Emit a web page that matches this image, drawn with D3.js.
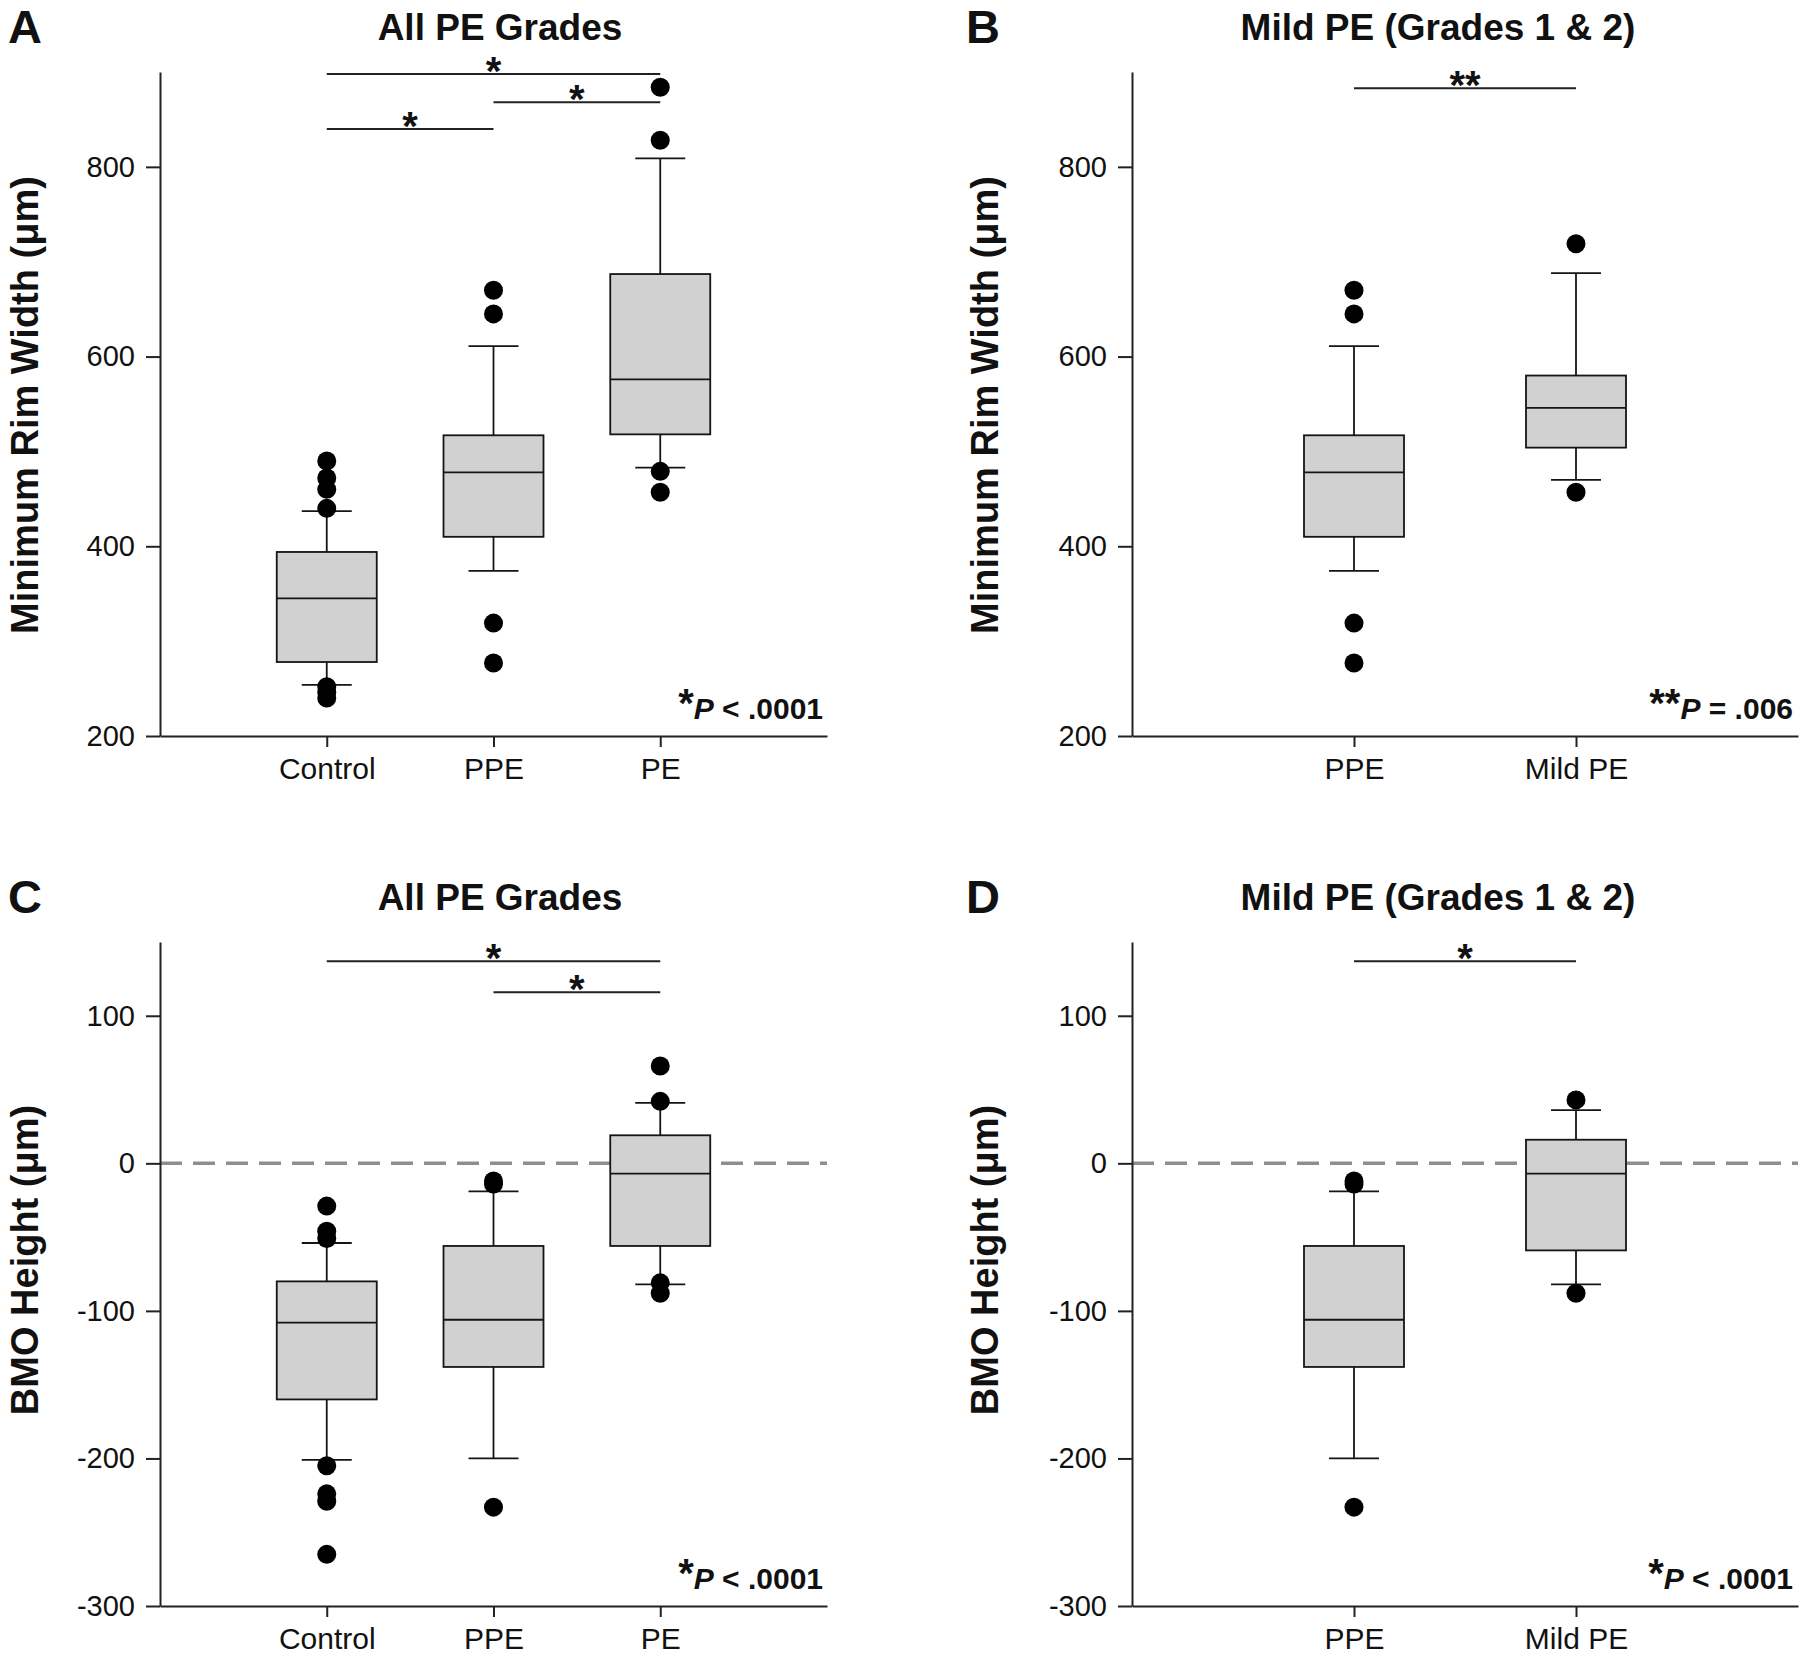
<!DOCTYPE html>
<html>
<head>
<meta charset="utf-8">
<script src="https://cdn.jsdelivr.net/npm/d3@7"></script>
<style>
  body { margin: 0; background: #fff; }
  text { font-family: "Liberation Sans", Arial, sans-serif; fill: #111; }
</style>
</head>
<body>
<script>
// page size
var W = 1800, H = 1656;

// categories
var catsAll = ["Control", "PPE", "PE"];
var catsMild = ["PPE", "Mild PE"];

// box stats: [lower whisker, Q1, median, Q3, upper whisker]
var mrwStats = {
  "Control": [254, 278, 345, 394, 437],
  "PPE":     [374, 410, 478, 517, 611],
  "PE":      [483, 518, 576, 687, 809],
  "Mild PE": [470, 504, 546, 580, 688]
};
var mrwOutliers = {
  "Control": [490, 472, 460, 440, 252, 246, 240],
  "PPE":     [670, 645, 319, 277],
  "PE":      [884, 828, 479, 457],
  "Mild PE": [719, 457]
};
var bmoStats = {
  "Control": [-201, -160, -108, -80, -54],
  "PPE":     [-200, -138, -106, -56, -19],
  "PE":      [-82, -56, -7, 19, 41],
  "Mild PE": [-82, -59, -7, 16, 36]
};
var bmoOutliers = {
  "Control": [-29, -46, -51, -205, -224, -229, -265],
  "PPE":     [-12, -14, -233],
  "PE":      [66, 42, -81, -88],
  "Mild PE": [43, -88]
};

// tick labels
var mrwTicks = [200, 400, 600, 800];
var bmoTicks = [-300, -200, -100, 0, 100];

// significance brackets
var sigA = [
  {from: "Control", to: "PE",  y: 898, label: "*"},
  {from: "PPE",     to: "PE",  y: 868, label: "*"},
  {from: "Control", to: "PPE", y: 840, label: "*"}
];
var sigB = [{from: "PPE", to: "Mild PE", y: 883, label: "**"}];
var sigC = [
  {from: "Control", to: "PE", y: 137, label: "*"},
  {from: "PPE",     to: "PE", y: 116, label: "*"}
];
var sigD = [{from: "PPE", to: "Mild PE", y: 137, label: "*"}];

var svg = d3.select("body").append("svg")
  .attr("width", W)
  .attr("height", H);

svg.append("rect").attr("width", W).attr("height", H).style("fill", "white");

//one panel = one box plot
function drawPanel(p) {
  var x = d3.scalePoint().domain(p.cats).range([p.x0, p.x1]).padding(1);
  var y = d3.scaleLinear().domain(p.domain).range([p.yb, p.yt]);
  var g = svg.append("g");

  // panel letter and title
  g.append("text")
    .attr("x", p.letterX).attr("y", p.yt - 29)
    .attr("font-size", "47px").attr("font-weight", "bold")
    .text(p.letter);
  g.append("text")
    .attr("x", p.titleX).attr("y", p.yt - 32)
    .attr("text-anchor", "middle")
    .attr("font-size", "37px").attr("font-weight", "bold")
    .text(p.title);

  // zero line
  if (p.zero) {
    g.append("line")
      .attr("x1", p.x0).attr("x2", p.x1)
      .attr("y1", y(0)).attr("y2", y(0))
      .style("stroke", "#8e8e8e")
      .style("stroke-width", 3.5)
      .style("stroke-dasharray", "22,11");
  }

  // axes
  var yAx = g.append("g")
    .attr("transform", "translate(" + p.x0 + ",0)")
    .call(d3.axisLeft(y).tickValues(p.ticks).tickFormat(function(d) { return String(d); })
      .tickSize(14).tickSizeOuter(0).tickPadding(11));
  var xAx = g.append("g")
    .attr("transform", "translate(0," + p.yb + ")")
    .call(d3.axisBottom(x).tickSize(11).tickSizeOuter(0));
  [yAx, xAx].forEach(function(a) {
    a.attr("font-size", "29px").attr("font-family", null);
    a.selectAll("path, line").style("stroke", "#222").style("stroke-width", 2);
    a.selectAll("text").style("fill", "#111");
  });
  xAx.attr("font-size", "30px");
  xAx.selectAll("text").attr("y", 43).attr("dy", 0);

  // y axis title
  g.append("text")
    .attr("transform", "translate(" + p.labelX + "," + p.labelY + ") rotate(-90)")
    .attr("text-anchor", "middle")
    .attr("font-size", "38px").attr("font-weight", "bold")
    .text(p.ylabel);

  // boxes
  var boxW = 100, capW = 50;
  var items = g.selectAll("g.box")
    .data(p.cats)
    .enter().append("g")
    .attr("class", "box")
    .attr("transform", function(d) { return "translate(" + x(d) + ",0)"; });

  items.append("line")
    .attr("x1", 0).attr("x2", 0)
    .attr("y1", function(d) { return y(p.stats[d][0]); })
    .attr("y2", function(d) { return y(p.stats[d][4]); });
  items.selectAll("line.cap")
    .data(function(d) { return [p.stats[d][0], p.stats[d][4]]; })
    .enter().append("line")
    .attr("class", "cap")
    .attr("x1", -capW / 2).attr("x2", capW / 2)
    .attr("y1", function(v) { return y(v); })
    .attr("y2", function(v) { return y(v); });
  items.append("rect")
    .attr("x", -boxW / 2).attr("width", boxW)
    .attr("y", function(d) { return y(p.stats[d][3]); })
    .attr("height", function(d) { return y(p.stats[d][1]) - y(p.stats[d][3]); })
    .style("fill", "#d1d1d1");
  items.append("line")
    .attr("x1", -boxW / 2).attr("x2", boxW / 2)
    .attr("y1", function(d) { return y(p.stats[d][2]); })
    .attr("y2", function(d) { return y(p.stats[d][2]); });
  items.selectAll("line, rect").style("stroke", "#151515").style("stroke-width", 1.8);

  items.selectAll("circle")
    .data(function(d) { return p.outliers[d]; })
    .enter().append("circle")
    .attr("cx", 0)
    .attr("cy", function(v) { return y(v); })
    .attr("r", 9.5)
    .style("fill", "#000");

  // significance brackets
  var sig = g.selectAll("g.sig").data(p.sig).enter().append("g").attr("class", "sig");
  sig.append("line")
    .attr("x1", function(d) { return x(d.from); })
    .attr("x2", function(d) { return x(d.to); })
    .attr("y1", function(d) { return y(d.y); })
    .attr("y2", function(d) { return y(d.y); })
    .style("stroke", "#222").style("stroke-width", 2);
  sig.append("text")
    .attr("x", function(d) { return (x(d.from) + x(d.to)) / 2; })
    .attr("y", function(d) { return y(d.y) + 11; })
    .attr("text-anchor", "middle")
    .attr("font-size", "40px").attr("font-weight", "bold")
    .text(function(d) { return d.label; });

  // p value note
  var note = g.append("text")
    .attr("x", p.noteX).attr("y", p.yb - 17)
    .attr("text-anchor", "end")
    .attr("font-size", "30px").attr("font-weight", "bold");
  note.append("tspan").attr("font-size", "40px").attr("dy", -2).text(p.note[0]);
  note.append("tspan").attr("font-style", "italic").attr("dy", 2).text("P");
  note.append("tspan").text(p.note[1]);
}

drawPanel({letter: "A", title: "All PE Grades", letterX: 8, titleX: 500,
  x0: 160, x1: 827, yt: 72, yb: 736, domain: [200, 900], ticks: mrwTicks,
  cats: catsAll, stats: mrwStats, outliers: mrwOutliers, sig: sigA,
  ylabel: "Minimum Rim Width (μm)", labelX: 38, labelY: 405,
  note: ["*", " < .0001"], noteX: 823, zero: false});

drawPanel({letter: "B", title: "Mild PE (Grades 1 & 2)", letterX: 966, titleX: 1438,
  x0: 1132, x1: 1798, yt: 72, yb: 736, domain: [200, 900], ticks: mrwTicks,
  cats: catsMild, stats: mrwStats, outliers: mrwOutliers, sig: sigB,
  ylabel: "Minimum Rim Width (μm)", labelX: 998, labelY: 405,
  note: ["**", " = .006"], noteX: 1793, zero: false});

drawPanel({letter: "C", title: "All PE Grades", letterX: 8, titleX: 500,
  x0: 160, x1: 827, yt: 942, yb: 1606, domain: [-300, 150], ticks: bmoTicks,
  cats: catsAll, stats: bmoStats, outliers: bmoOutliers, sig: sigC,
  ylabel: "BMO Height (μm)", labelX: 38, labelY: 1260,
  note: ["*", " < .0001"], noteX: 823, zero: true});

drawPanel({letter: "D", title: "Mild PE (Grades 1 & 2)", letterX: 966, titleX: 1438,
  x0: 1132, x1: 1798, yt: 942, yb: 1606, domain: [-300, 150], ticks: bmoTicks,
  cats: catsMild, stats: bmoStats, outliers: bmoOutliers, sig: sigD,
  ylabel: "BMO Height (μm)", labelX: 998, labelY: 1260,
  note: ["*", " < .0001"], noteX: 1793, zero: true});
</script>
</body>
</html>
